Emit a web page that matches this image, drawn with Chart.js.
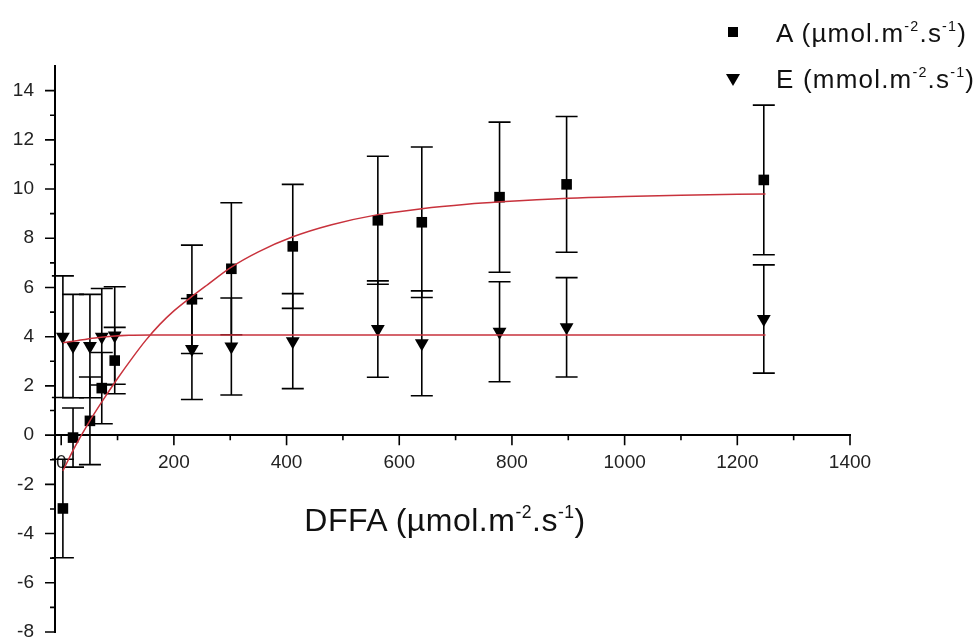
<!DOCTYPE html>
<html>
<head>
<meta charset="utf-8">
<script src="https://cdn.jsdelivr.net/npm/chart.js@4.4.1/dist/chart.umd.min.js"></script>
<style>
  body { margin: 0; background: #fff; }
  #wrap { position: relative; width: 979px; height: 642px; font-family: "Liberation Sans", Arial, sans-serif; color: #111; }
  #wrap canvas { position: absolute; left: 0; top: 0; }
  .lbl { position: absolute; white-space: nowrap; line-height: 1; }
  .lbl sup { font-size: 0.55em; vertical-align: 0; position: relative; top: -0.75em; }
  .sq { position: absolute; width: 10px; height: 10px; background: #000; }
  .tri { position: absolute; width: 0; height: 0; border-left: 7px solid transparent; border-right: 7px solid transparent; border-top: 12px solid #000; }
</style>
</head>
<body>
<div id="wrap">
  <canvas id="theChart" width="979" height="642"></canvas>
  <div class="sq" style="left:728px; top:27px;"></div>
  <div class="lbl" style="left:776px; top:20px; font-size:26px; letter-spacing:1.2px;">A (µmol.m<sup>-2</sup>.s<sup>-1</sup>)</div>
  <div class="tri" style="left:726px; top:74px;"></div>
  <div class="lbl" style="left:776px; top:66px; font-size:26px; letter-spacing:1.2px;">E (mmol.m<sup>-2</sup>.s<sup>-1</sup>)</div>
  <div class="lbl" style="left:445px; top:520px; font-size:32px; letter-spacing:0.5px; transform: translate(-50%, -50%);">DFFA (µmol.m<sup>-2</sup>.s<sup>-1</sup>)</div>
</div>
<script>
// light levels (x) and measured means / errors
const parX = [3, 21, 51, 72, 95, 232, 302, 411, 562, 640, 778, 897, 1247];
const aMean = [-2.98, -0.1, 0.58, 1.91, 3.03, 5.52, 6.76, 7.67, 8.73, 8.65, 9.67, 10.19, 10.37];
const aErr = [2.0, 1.2, 1.78, 1.45, 1.35, 2.2, 2.68, 2.52, 2.6, 3.06, 3.05, 2.76, 3.04];
const eMean = [4.0, 3.62, 3.62, 4.0, 4.05, 3.5, 3.6, 3.82, 4.31, 3.73, 4.2, 4.38, 4.72];
const eErr = [2.47, 2.1, 2.1, 1.96, 1.98, 2.05, 1.97, 1.93, 1.96, 2.13, 2.03, 2.02, 2.2];

// fitted curves
const fitAX = [3, 25, 50, 75, 100, 125, 150, 175, 200, 230, 260, 300, 350, 410, 480, 560, 640, 720, 780, 900, 1000, 1100, 1250];
const fitAY = [-1.45, -0.45, 0.55, 1.45, 2.3, 3.1, 3.85, 4.5, 5.05, 5.6, 6.12, 6.8, 7.45, 8.05, 8.55, 8.95, 9.2, 9.38, 9.48, 9.63, 9.7, 9.75, 9.8];
const fitEX = [3, 30, 60, 90, 120, 160, 1250];
const fitEY = [3.75, 3.85, 3.95, 4.02, 4.06, 4.07, 4.07];

// axis ticks
const xTicks = [0, 100, 200, 300, 400, 500, 600, 700, 800, 900, 1000, 1100, 1200, 1300, 1400];
const yTicks = [-8, -7, -6, -5, -4, -3, -2, -1, 0, 1, 2, 3, 4, 5, 6, 7, 8, 9, 10, 11, 12, 13, 14];

const RED = '#c8323c';
const FONT = "'Liberation Sans', Arial, sans-serif";

function pts(xs, ys) {
  return xs.map((x, i) => ({x: x, y: ys[i]}));
}

const errorBars = {
  id: 'errorBars',
  beforeDatasetsDraw(chart) {
    const ctx = chart.ctx;
    const xs = chart.scales.x, ys = chart.scales.y;
    ctx.save();
    ctx.strokeStyle = '#000';
    ctx.lineWidth = 1.6;
    [[aMean, aErr], [eMean, eErr]].forEach(([m, e]) => {
      parX.forEach((x, i) => {
        const px = xs.getPixelForValue(x);
        const top = ys.getPixelForValue(m[i] + e[i]);
        const bot = ys.getPixelForValue(m[i] - e[i]);
        ctx.beginPath();
        ctx.moveTo(px, top); ctx.lineTo(px, bot);
        ctx.moveTo(px - 11, top); ctx.lineTo(px + 11, top);
        ctx.moveTo(px - 11, bot); ctx.lineTo(px + 11, bot);
        ctx.stroke();
      });
    });
    ctx.restore();
  }
};

const tickMarks = {
  id: 'tickMarks',
  afterDraw(chart) {
    const ctx = chart.ctx;
    const xs = chart.scales.x, ys = chart.scales.y;
    const axisY = ys.getPixelForValue(0);
    const axisX = chart.chartArea.left;
    ctx.save();
    ctx.strokeStyle = '#000';
    ctx.lineWidth = 1.6;
    ctx.beginPath();
    xTicks.forEach(v => {
      const px = xs.getPixelForValue(v);
      const len = v % 200 === 0 ? 10 : 5;
      ctx.moveTo(px, axisY); ctx.lineTo(px, axisY + len);
    });
    yTicks.forEach(v => {
      const py = ys.getPixelForValue(v);
      const len = v % 2 === 0 ? 10 : 5;
      ctx.moveTo(axisX, py); ctx.lineTo(axisX - len, py);
    });
    ctx.stroke();
    ctx.restore();
  }
};

const chart = new Chart(document.getElementById('theChart').getContext('2d'), {
  type: 'scatter',
  data: {
    datasets: [
      {
        label: 'fitA',
        data: pts(fitAX, fitAY),
        showLine: true,
        borderColor: RED,
        borderWidth: 1.5,
        pointRadius: 0,
        cubicInterpolationMode: 'monotone'
      },
      {
        label: 'fitE',
        data: pts(fitEX, fitEY),
        showLine: true,
        borderColor: RED,
        borderWidth: 1.5,
        pointRadius: 0,
        cubicInterpolationMode: 'monotone'
      },
      {
        label: 'A',
        data: pts(parX, aMean),
        pointStyle: 'rect',
        pointRadius: 7.5,
        backgroundColor: '#000',
        borderColor: '#000',
        borderWidth: 0
      },
      {
        label: 'E',
        data: pts(parX, eMean),
        pointStyle: 'triangle',
        rotation: 180,
        pointRadius: 8,
        backgroundColor: '#000',
        borderColor: '#000',
        borderWidth: 0
      }
    ]
  },
  options: {
    responsive: false,
    animation: false,
    layout: { padding: { top: 66, bottom: 10, right: 129, left: 0 } },
    plugins: {
      legend: { display: false },
      tooltip: { enabled: false }
    },
    scales: {
      x: {
        type: 'linear',
        min: -11,
        max: 1400,
        position: { y: 0 },
        afterFit: s => { s.height = 0; s.paddingTop = 0; s.paddingBottom = 0; },
        afterBuildTicks: s => { s.ticks = xTicks.map(v => ({value: v})); },
        grid: { display: false, drawTicks: false },
        border: { display: true, color: '#000', width: 2 },
        ticks: {
          padding: 16,
          color: '#222',
          font: { family: FONT, size: 19 },
          maxRotation: 0,
          autoSkip: false,
          callback: v => (v % 200 === 0 ? String(v) : '')
        }
      },
      y: {
        type: 'linear',
        min: -8,
        max: 15,
        position: 'left',
        afterFit: s => { s.width = 55; s.paddingTop = 0; s.paddingBottom = 0; },
        afterBuildTicks: s => { s.ticks = yTicks.map(v => ({value: v})); },
        grid: { display: false, drawTicks: false },
        border: { display: true, color: '#000', width: 2 },
        ticks: {
          padding: 21,
          color: '#222',
          font: { family: FONT, size: 19 },
          autoSkip: false,
          callback: v => (v % 2 === 0 ? String(v) : '')
        }
      }
    }
  },
  plugins: [errorBars, tickMarks]
});
</script>
</body>
</html>
